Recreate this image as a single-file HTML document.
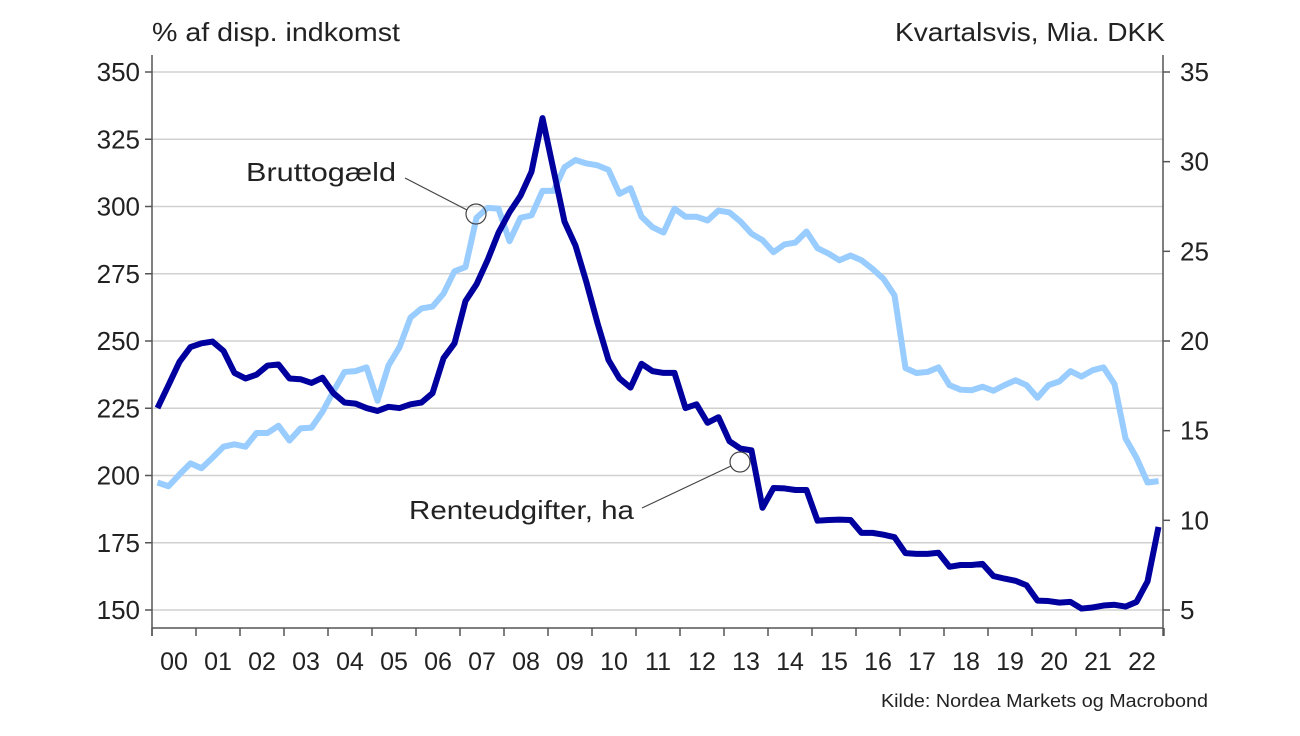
<!DOCTYPE html>
<html><head><meta charset="utf-8"><style>
body{margin:0;background:#fff;}
svg text{font-family:"Liberation Sans",sans-serif;fill:#222;}
</style></head><body>
<svg id="chart" width="1300" height="731" xmlns="http://www.w3.org/2000/svg">
<text x="152" y="41" font-size="26" textLength="248" lengthAdjust="spacingAndGlyphs">% af disp. indkomst</text>
<text x="895" y="41" font-size="26" textLength="270" lengthAdjust="spacingAndGlyphs">Kvartalsvis, Mia. DKK</text>
<text x="881" y="707" font-size="18" textLength="327" lengthAdjust="spacingAndGlyphs">Kilde: Nordea Markets og Macrobond</text>
<g id="grid"></g><g id="axes"></g><g id="series"></g>
<g>
<text x="246" y="181" font-size="26" textLength="150" lengthAdjust="spacingAndGlyphs">Bruttogæld</text>
<line x1="405" y1="178" x2="467" y2="210" stroke="#444" stroke-width="1.2"/>
<circle cx="476" cy="214" r="10" fill="none" stroke="#444" stroke-width="1.2"/>
</g>
<g>
<text x="409" y="519" font-size="26" textLength="225" lengthAdjust="spacingAndGlyphs">Renteudgifter, ha</text>
<line x1="642" y1="508" x2="731" y2="466" stroke="#444" stroke-width="1.2"/>
<circle cx="740" cy="462" r="10" fill="none" stroke="#444" stroke-width="1.2"/>
</g>
</svg>
<script>
const years=["00","01","02","03","04","05","06","07","08","09","10","11","12","13","14","15","16","17","18","19","20","21","22"];
const leftTicks=[150,175,200,225,250,275,300,325,350];
const rightTicks=[5,10,15,20,25,30,35];
const bruttogaeld=[197.4,196.0,200.4,204.5,202.7,206.6,210.7,211.6,210.7,215.8,215.8,218.5,213.0,217.5,217.8,223.7,231.3,238.5,238.8,240.2,227.8,240.9,247.7,258.7,262.1,262.8,267.6,275.9,277.5,295.8,299.5,299.2,287.1,295.8,296.7,305.8,305.8,314.6,317.3,316.0,315.3,313.6,304.7,306.8,296.2,292.3,290.3,299.2,296.2,296.2,294.8,298.5,297.8,294.4,289.9,287.5,283.0,285.9,286.6,290.7,284.5,282.5,280.0,281.8,280.0,276.8,273.1,267.0,239.9,238.1,238.5,240.2,233.6,231.9,231.7,233.0,231.5,233.6,235.4,233.6,228.9,233.6,235.0,238.8,236.8,239.1,240.2,234.0,213.8,206.6,197.4,197.9];
const renteudgifter=[16.26,17.54,18.84,19.66,19.87,19.97,19.45,18.22,17.91,18.12,18.63,18.69,17.91,17.87,17.66,17.95,17.09,16.57,16.51,16.26,16.10,16.33,16.26,16.47,16.57,17.09,19.04,19.87,22.23,23.16,24.50,26.04,27.18,28.10,29.44,32.43,29.54,26.66,25.32,23.26,21.00,18.94,17.91,17.40,18.73,18.32,18.22,18.22,16.26,16.47,15.44,15.75,14.41,14.00,13.90,10.70,11.80,11.78,11.69,11.69,9.98,10.02,10.04,10.02,9.30,9.30,9.20,9.06,8.17,8.13,8.13,8.19,7.41,7.51,7.51,7.57,6.89,6.75,6.63,6.38,5.52,5.50,5.41,5.45,5.08,5.14,5.25,5.29,5.19,5.45,6.59,9.63];
const X0=152,YW=44,TOP=72,BOT=610;
const yL=v=>TOP+(350-v)*(BOT-TOP)/200;
const yR=v=>TOP+(35-v)*(BOT-TOP)/30;
const xQ=i=>X0+YW*(i+0.5)/4;
const NS="http://www.w3.org/2000/svg";
function mk(tag,attrs,parent){const e=document.createElementNS(NS,tag);for(const k in attrs)e.setAttribute(k,attrs[k]);parent.appendChild(e);return e;}
const grid=document.getElementById('grid'),axes=document.getElementById('axes'),series=document.getElementById('series');
leftTicks.forEach(v=>{
 const g=mk('line',{x1:X0,x2:1163,y1:yL(v),y2:yL(v),stroke:'#d0d0d0','stroke-width':1.5},grid);
 
 
 const t=mk('line',{x1:X0-7,x2:X0,y1:yL(v),y2:yL(v),stroke:'#555','stroke-width':1.5},axes);
 
 
 const l=mk('text',{x:140,y:yL(v)+9,'font-size':26,'text-anchor':'end'},axes);
 l.textContent=v;
 
 
});
rightTicks.forEach(v=>{
 const t=mk('line',{x1:1163,x2:1170,y1:yR(v),y2:yR(v),stroke:'#555','stroke-width':1.5},axes);
 
 
 const l=mk('text',{x:1180,y:yR(v)+9,'font-size':26},axes);
 l.textContent=v;
 
 
});
const la=mk('line',{x1:X0,x2:X0,y1:55,y2:636,stroke:'#555','stroke-width':1.5},axes);


const ra=mk('line',{x1:1163,x2:1163,y1:55,y2:636,stroke:'#555','stroke-width':1.5},axes);


const xa=mk('line',{x1:X0,x2:1163,y1:628,y2:628,stroke:'#555','stroke-width':1.5},axes);


for(let k=0;k<=years.length;k++){
 const t=mk('line',{x1:X0+YW*k,x2:X0+YW*k,y1:628,y2:636,stroke:'#555','stroke-width':1.5},axes);
 
 
}
years.forEach((y,k)=>{
 const l=mk('text',{x:X0+YW*(k+0.5),y:670,'font-size':25,'text-anchor':'middle'},axes);
 l.textContent=y;
 
 
});
const p1=mk('polyline',{points:bruttogaeld.map((v,i)=>xQ(i)+','+yL(v)).join(' '),fill:'none',stroke:'#99ccff','stroke-width':6,'stroke-linejoin':'round'},series);


const p2=mk('polyline',{points:renteudgifter.map((v,i)=>xQ(i)+','+yR(v)).join(' '),fill:'none',stroke:'#00009e','stroke-width':6,'stroke-linejoin':'round'},series);


</script>
</body></html>
